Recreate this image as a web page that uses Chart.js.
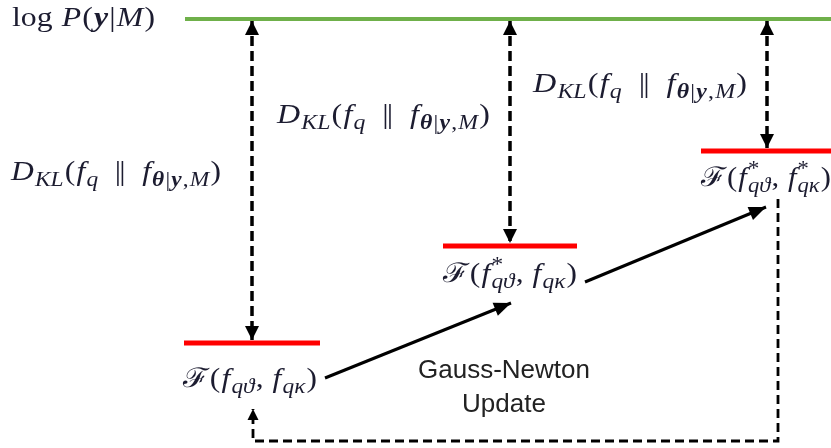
<!DOCTYPE html>
<html>
<head>
<meta charset="utf-8">
<script src="https://cdn.jsdelivr.net/npm/chart.js@4.4.1/dist/chart.umd.min.js"></script>
<style>
  html, body { margin: 0; padding: 0; background: #ffffff; }
  #wrap { width: 831px; height: 448px; position: relative; }
</style>
</head>
<body>
<div id="wrap"><canvas id="c" width="831" height="448"></canvas></div>
<script>
// ---------------- data (diagram units: x left→right, y bottom→top) ----------------
const iterations = ['initial', 'after update 1', 'after update 2'];
const iterX = [252, 510, 767];            // horizontal centre of each bound level
const logEvidence = 429;                  // level of log P(y|M)
const boundLevels = [105, 202, 297];      // levels of the lower bound F at each iteration
const evidenceSpan = [185, 831];          // extent of the log-evidence line
const boundHalfWidth = [68, 67, 66];

// ---------------- label text ----------------
const R = 'r', I = 'i', B = 'bi';
const txtLogP = [['log ', R], ['P', I], ['(', R], ['y', B], ['|', R], ['M', I], [')', R]];
const txtKL = [['D', I], ['KL', I, 'sub'], ['(', R], ['f', I], ['q', I, 'sub'], [' \u2009', R], ['|', R, 'tight'], ['|', R], [' \u2009', R], ['f', I],
               ['\u03B8', B, 'sub'], ['|', R, 'sub'], ['y', B, 'sub'], [',', R, 'sub'], ['M', I, 'sub'], [')', R]];
const txtF0 = [['\u2131', R], ['(', R], ['f', I], ['q\u03D1', I, 'sub'], [', ', R], ['f', I], ['q\u03BA', I, 'sub'], [')', R]];
const txtF1 = [['\u2131', R], ['(', R], ['f', I], ['*', R, 'supstack'], ['q\u03D1', I, 'sub'], [', ', R], ['f', I], ['q\u03BA', I, 'sub'], [')', R]];
const txtF2 = [['\u2131', R], ['(', R], ['f', I], ['*', R, 'supstack'], ['q\u03D1', I, 'sub'], [', ', R], ['f', I], ['*', R, 'supstack'], ['q\u03BA', I, 'sub'], [')', R]];
const gnLines = ['Gauss-Newton', 'Update'];

// label anchors (left x, baseline y in diagram units, target width)
const labels = [
  { segs: txtLogP, x: 12,  y: 448 - 26,  w: 143 },
  { segs: txtKL,   x: 11,  y: 448 - 180, w: 210 },
  { segs: txtKL,   x: 277, y: 448 - 123, w: 213 },
  { segs: txtKL,   x: 533, y: 448 - 92,  w: 214 },
  { segs: txtF0,   x: 183, y: 448 - 387, w: 134 },
  { segs: txtF1,   x: 443, y: 448 - 282, w: 134 },
  { segs: txtF2,   x: 701, y: 448 - 186, w: 130 }
];

// ---------------- datasets ----------------
const GREEN = '#6fb04a', RED = '#ff0000', BLACK = '#000000';
const datasets = [];
datasets.push({ label: 'log P(y|M)', data: [{x: evidenceSpan[0], y: logEvidence}, {x: evidenceSpan[1], y: logEvidence}],
  borderColor: GREEN, borderWidth: 4 });
iterations.forEach((name, i) => {
  datasets.push({ label: 'F ' + name,
    data: [{x: iterX[i] - boundHalfWidth[i], y: boundLevels[i]}, {x: iterX[i] + boundHalfWidth[i], y: boundLevels[i]}],
    borderColor: RED, borderWidth: 5 });
  datasets.push({ label: 'KL ' + name,
    data: [{x: iterX[i], y: logEvidence - 2}, {x: iterX[i], y: boundLevels[i] + 3}],
    borderColor: BLACK, borderWidth: 3.5, borderDash: [10, 5], arrowStart: true, arrowEnd: true, arrowLen: 14, arrowW: 14 });
});
// Gauss-Newton update arrows (from label to next bound label)
datasets.push({ label: 'update 1', data: [{x: 325, y: 448 - 378}, {x: 511, y: 448 - 303}],
  borderColor: BLACK, borderWidth: 3, arrowEnd: true, arrowLen: 17, arrowW: 14 });
datasets.push({ label: 'update 2', data: [{x: 585, y: 448 - 282}, {x: 766, y: 448 - 207}],
  borderColor: BLACK, borderWidth: 3, arrowEnd: true, arrowLen: 17, arrowW: 14 });
// iterate loop
datasets.push({ label: 'loop', data: [{x: 778, y: 448 - 199}, {x: 778, y: 448 - 441}, {x: 253, y: 448 - 441}, {x: 253, y: 448 - 409}],
  borderColor: BLACK, borderWidth: 2.8, borderDash: [9, 5], arrowEnd: true, arrowLen: 11, arrowW: 11 });

datasets.forEach(d => { d.showLine = true; d.pointRadius = 0; d.pointHoverRadius = 0; d.fill = false; d.tension = 0; d.borderCapStyle = 'butt'; d.borderJoinStyle = 'miter'; });

// ---------------- plugins ----------------
const arrowPlugin = {
  id: 'arrows',
  afterDatasetsDraw(chart) {
    const ctx = chart.ctx;
    chart.data.datasets.forEach((ds, i) => {
      const pts = chart.getDatasetMeta(i).data;
      if (pts.length < 2) return;
      const head = (tip, from) => {
        const a = Math.atan2(tip.y - from.y, tip.x - from.x);
        const L = ds.arrowLen, W = ds.arrowW / 2;
        const bx = tip.x - Math.cos(a) * L, by = tip.y - Math.sin(a) * L;
        ctx.save();
        ctx.fillStyle = ds.borderColor;
        ctx.beginPath();
        ctx.moveTo(tip.x, tip.y);
        ctx.lineTo(bx - Math.sin(a) * W, by + Math.cos(a) * W);
        ctx.lineTo(bx + Math.sin(a) * W, by - Math.cos(a) * W);
        ctx.closePath();
        ctx.fill();
        ctx.restore();
      };
      if (ds.arrowEnd) head(pts[pts.length - 1], pts[pts.length - 2]);
      if (ds.arrowStart) head(pts[0], pts[1]);
    });
  }
};

const BASE = 27, SUB = 20;
const SERIF = '"Liberation Serif", "DejaVu Serif", serif';
function fontFor(st, size) {
  if (st === 'i') return 'italic ' + size + 'px ' + SERIF;
  if (st === 'bi') return 'italic bold ' + size + 'px ' + SERIF;
  return size + 'px ' + SERIF;
}
function layoutRich(ctx, segs) {
  let cx = 0;
  const out = [];
  segs.forEach(([t, st, pos]) => {
    let size = BASE, dy = 0, adv = true, gap = 1;
    if (pos === 'sub') { size = SUB; dy = 6; }
    if (pos === 'supstack') { size = SUB; dy = -11; adv = false; }
    if (pos === 'tight') { gap = -1.5; }
    ctx.font = fontFor(st, size);
    const w = ctx.measureText(t).width;
    out.push({ t, font: ctx.font, x: cx, dy });
    if (adv) cx += w + gap;
  });
  return { items: out, width: cx - 1 };
}
const textPlugin = {
  id: 'mathText',
  afterDraw(chart) {
    const ctx = chart.ctx, sx = chart.scales.x, sy = chart.scales.y;
    ctx.save();
    ctx.textBaseline = 'alphabetic';
    ctx.textAlign = 'left';
    ctx.fillStyle = '#1c1c30';
    labels.forEach(lb => {
      const x0 = sx.getPixelForValue(lb.x);
      const by = sy.getPixelForValue(lb.y);
      const lay = layoutRich(ctx, lb.segs);
      const k = (sx.getPixelForValue(lb.x + lb.w) - x0) / lay.width;
      ctx.save();
      ctx.translate(x0, by);
      ctx.scale(k, 1);
      lay.items.forEach(it => { ctx.font = it.font; ctx.fillText(it.t, it.x, it.dy); });
      ctx.restore();
    });
    // Gauss-Newton Update (sans serif)
    ctx.fillStyle = '#222222';
    ctx.font = '26px "Liberation Sans", Arial, sans-serif';
    ctx.textAlign = 'center';
    const gx = sx.getPixelForValue(504);
    ctx.fillText(gnLines[0], gx, sy.getPixelForValue(448 - 378));
    ctx.fillText(gnLines[1], gx, sy.getPixelForValue(448 - 412));
    ctx.restore();
  }
};

new Chart(document.getElementById('c'), {
  type: 'scatter',
  data: { datasets },
  options: {
    responsive: false,
    maintainAspectRatio: false,
    devicePixelRatio: 1,
    animation: false,
    layout: { padding: 0 },
    plugins: { legend: { display: false }, tooltip: { enabled: false } },
    scales: {
      x: { type: 'linear', min: 0, max: 831, display: false },
      y: { type: 'linear', min: 0, max: 448, display: false }
    }
  },
  plugins: [arrowPlugin, textPlugin]
});
</script>
</body>
</html>
